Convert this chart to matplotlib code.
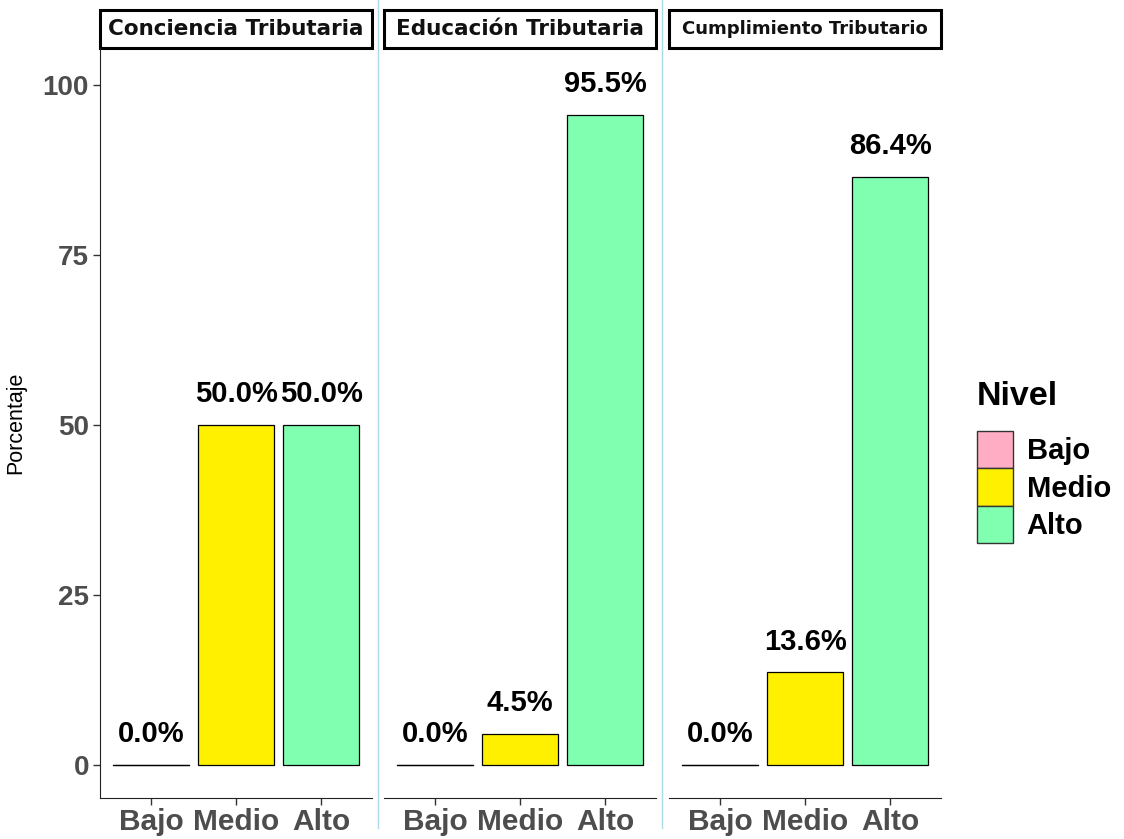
import matplotlib.pyplot as plt
from matplotlib.patches import Patch, Rectangle
from matplotlib.lines import Line2D
import numpy as np

plt.rcParams['font.family'] = ['Liberation Sans', 'DejaVu Sans']

# datos
dimensiones = ['Conciencia Tributaria', 'Educación Tributaria', 'Cumplimiento Tributario']
niveles = ['Bajo', 'Medio', 'Alto']
conciencia = [0.0, 50.0, 50.0]
educacion = [0.0, 4.5, 95.5]
cumplimiento = [0.0, 13.6, 86.4]
valores = [conciencia, educacion, cumplimiento]
colores = ['#FFADC4', '#FFF000', '#80FFB0']
ticks_y = [0, 25, 50, 75, 100]

W, H = 1124, 839
fig = plt.figure(figsize=(W / 100, H / 100), dpi=100)

gris = '#4D4D4D'
x = np.arange(1, 4)
lefts = [100, 384, 669]
ancho = 272
y_bot, y_top = 798, 48
alto_px = y_bot - y_top

for i, (nombre, vals) in enumerate(zip(dimensiones, valores)):
    ax = fig.add_axes([lefts[i] / W, 1 - y_bot / H, ancho / W, alto_px / H])
    ax.bar(x, vals, width=0.9, color=colores, edgecolor='black', linewidth=0.9)
    for xi, v in zip(x, vals):
        if v == 0:
            ax.plot([xi - 0.45, xi + 0.45], [0, 0], color='black', lw=0.9)
        ax.annotate(f'{v:.1f}%', (xi, v), xytext=(0, 16.5), textcoords='offset points',
                    ha='center', va='baseline', fontsize=21, fontweight='bold', color='black')
    ax.set_xlim(0.4, 3.6)
    ax.set_ylim(-4.85, 105.4)
    ax.set_xticks(x)
    ax.set_xticklabels(niveles, fontsize=21.5, fontweight='bold', color=gris)
    ax.tick_params(axis='x', length=5, color='#333333', width=1, pad=2)
    for s in ['top', 'right']:
        ax.spines[s].set_visible(False)
    ax.spines['bottom'].set_color('#222222')
    if i == 0:
        ax.set_yticks(ticks_y)
        ax.set_yticklabels([str(t) for t in ticks_y], fontsize=20, fontweight='bold', color=gris)
        ax.tick_params(axis='y', length=5, color='#333333', width=1, pad=3)
        ax.spines['left'].set_color('#222222')
        ax.set_ylabel('Porcentaje', fontsize=15.5, labelpad=12)
    else:
        ax.spines['left'].set_visible(False)
        ax.set_yticks([])
    # cabecera del panel
    h_strip = 38 / alto_px
    ax.add_patch(Rectangle((0.0, 1.0), 1.0, h_strip, transform=ax.transAxes,
                           fc='white', ec='black', lw=2.2, clip_on=False))
    fs = 15.5 if i < 2 else 13
    ax.text(0.5, 1.0 + h_strip / 2, nombre, transform=ax.transAxes,
            ha='center', va='center', fontsize=fs, fontweight='heavy', color='#111111',
            family=['DejaVu Sans'])

# separadores
for xs in [378, 662]:
    fig.add_artist(Line2D([xs / W, xs / W], [1 - 828 / H, 1.0], color='#ADD8E6', lw=1))

# leyenda
handles = [Patch(facecolor=c, edgecolor='#333333', lw=1) for c in colores]
leg = fig.legend(handles, niveles, loc='center left', bbox_to_anchor=(977 / W, 1 - 462 / H),
                 frameon=False, title='Nivel', handlelength=1.25, handleheight=1.6,
                 handletextpad=0.45, labelspacing=0.0, borderpad=0, borderaxespad=0,
                 prop={'size': 21, 'weight': 'bold'})
leg.get_title().set_fontsize(24.5)
leg.get_title().set_fontweight('bold')
leg._legend_box.align = 'left'
leg._legend_box.sep = 14

fig.savefig('out.png', dpi=100)
